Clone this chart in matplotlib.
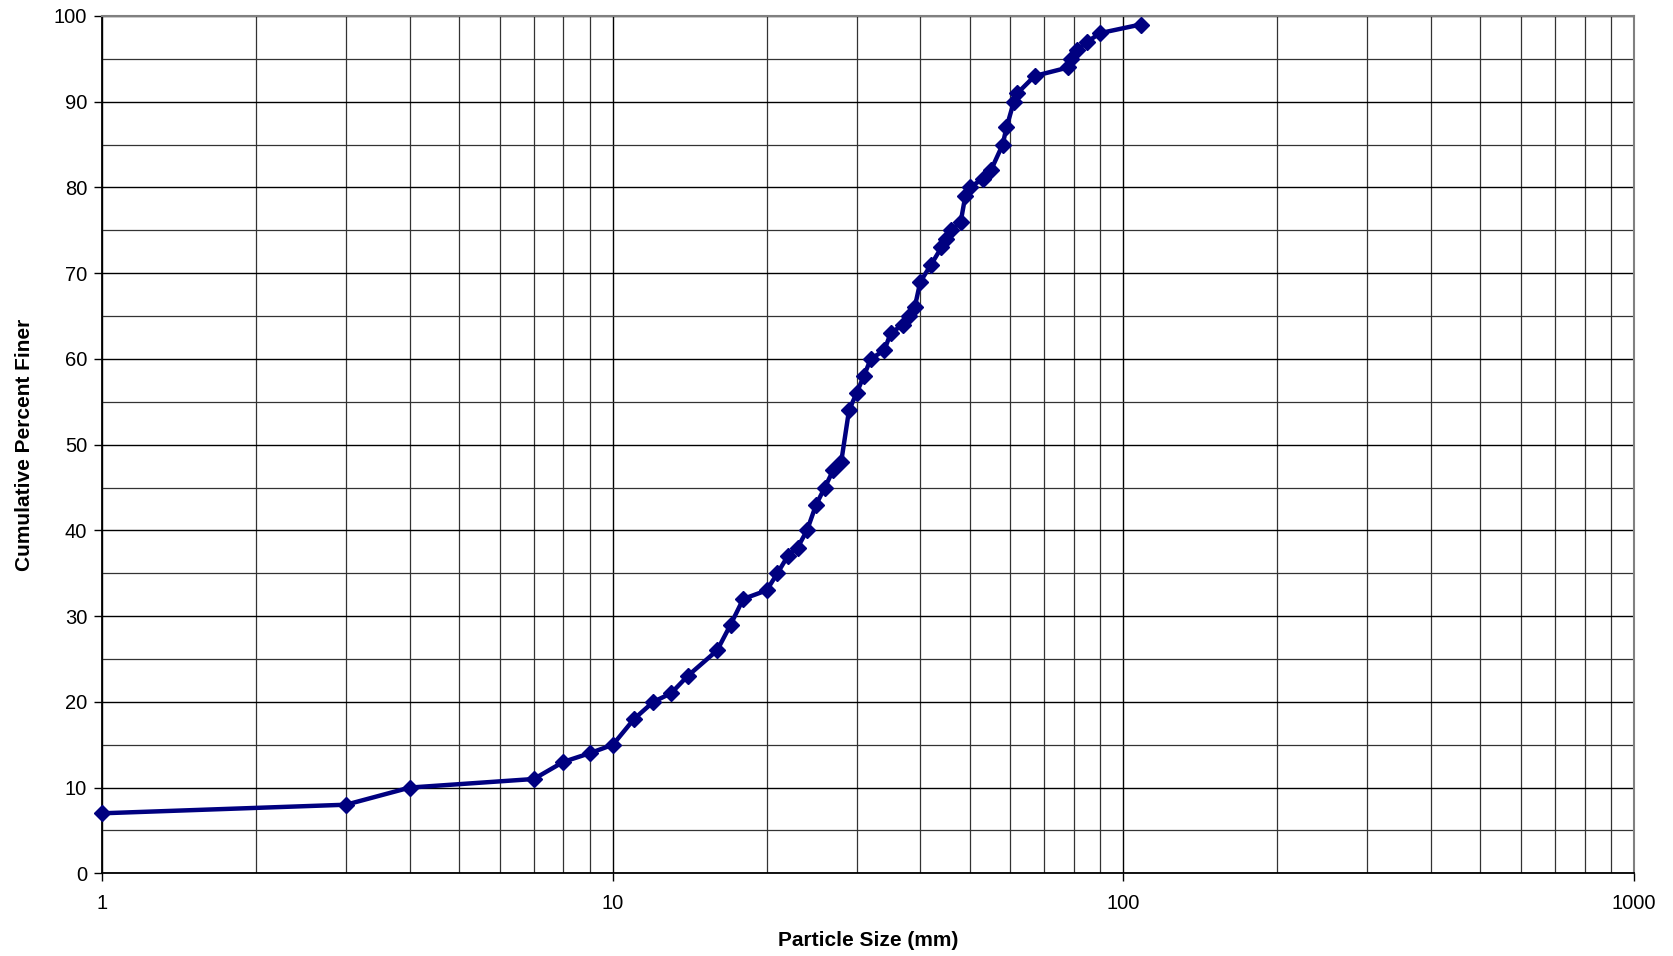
import matplotlib
matplotlib.use("Agg")
import matplotlib.pyplot as plt
from matplotlib.ticker import LogLocator, FixedLocator, NullFormatter, FuncFormatter

plt.rcParams['font.family'] = ['Liberation Sans', 'DejaVu Sans']

size_mm = [1, 3, 4, 7, 8, 9, 10, 11, 12, 13, 14, 16, 17, 18, 20, 21, 22, 23, 24,
           25, 26, 27, 28, 29, 30, 31, 32, 34, 35, 37, 38, 39, 40, 42, 44, 45, 46,
           48, 49, 50, 53, 55, 58, 59, 61, 62, 67, 78, 79, 81, 85, 90, 108]
pct_finer = [7, 8, 10, 11, 13, 14, 15, 18, 20, 21, 23, 26, 29, 32, 33, 35, 37, 38, 40,
             43, 45, 47, 48, 54, 56, 58, 60, 61, 63, 64, 65, 66, 69, 71, 73, 74, 75,
             76, 79, 80, 81, 82, 85, 87, 90, 91, 93, 94, 95, 96, 97, 98, 99]

x_label = "Particle Size (mm)"
y_label = "Cumulative Percent Finer"

fig = plt.figure(figsize=(16.73, 9.56), dpi=100)
ax = fig.add_axes([0.0612, 0.0865, 0.9155, 0.8968])

ax.set_xscale('log')
ax.set_xlim(1, 1000)
ax.set_ylim(0, 100)

ax.xaxis.set_major_locator(FixedLocator([1, 10, 100, 1000]))
ax.xaxis.set_major_formatter(FuncFormatter(lambda v, p: f"{v:g}"))
ax.xaxis.set_minor_locator(LogLocator(base=10, subs=range(2, 10), numticks=20))
ax.xaxis.set_minor_formatter(NullFormatter())
ax.set_yticks(range(0, 101, 10))
ax.set_yticks(range(5, 100, 10), minor=True)

ax.grid(True, which='major', axis='both', color='black', linewidth=1.0)
ax.grid(True, which='minor', axis='both', color='#333333', linewidth=0.9)
ax.set_axisbelow(True)

ax.plot(size_mm, pct_finer, color='#000080', linewidth=3.2, marker='D',
        markersize=8.5, markerfacecolor='#000080', markeredgecolor='#000080',
        clip_on=False, zorder=5)

for s in ['left', 'bottom']:
    ax.spines[s].set_color('black')
    ax.spines[s].set_linewidth(1.3)
for s in ['top', 'right']:
    ax.spines[s].set_color('#808080')
    ax.spines[s].set_linewidth(1.5)

ax.tick_params(axis='both', which='major', labelsize=14.5, length=6, width=1,
               direction='out', color='black')
ax.tick_params(axis='x', which='minor', length=0)
ax.tick_params(axis='y', which='minor', length=0)
ax.tick_params(axis='x', which='major', pad=9)
ax.tick_params(axis='y', which='major', pad=5)

ax.set_xlabel(x_label, fontsize=15, fontweight='bold', labelpad=13)
ax.set_ylabel(y_label, fontsize=15, fontweight='bold', labelpad=14)

fig.savefig("out.png", dpi=100)
